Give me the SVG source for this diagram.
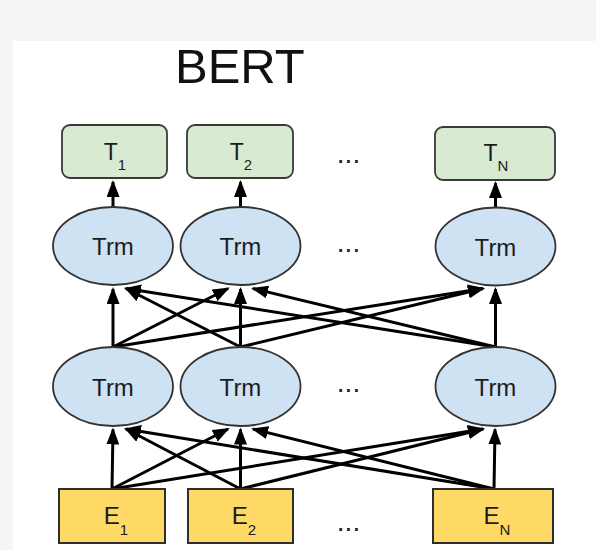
<svg xmlns="http://www.w3.org/2000/svg" width="596" height="550" viewBox="0 0 596 550">
<style>
.lbl{font-family:"Liberation Sans",Arial,sans-serif;fill:#1c1c1c;text-anchor:middle}
.tb{fill:#d9ead3;stroke:#3a3a3a;stroke-width:1.8}
.eb{fill:#ffd966;stroke:#2e2e2e;stroke-width:2}
.el{fill:#cfe2f3;stroke:#333;stroke-width:1.8}
.cn line{stroke:#000;stroke-width:3;marker-end:url(#ah)}
.dots{font-family:"Liberation Sans",Arial,sans-serif;font-size:28px;fill:#222;text-anchor:middle}
</style>
<defs>
<marker id="ah" markerUnits="userSpaceOnUse" markerWidth="17" markerHeight="13" viewBox="0 0 17 13" refX="15" refY="6.5" orient="auto">
<path d="M0,0 L17,6.5 L0,13 z" fill="#000"/>
</marker>
</defs>
<rect x="0" y="0" width="596" height="550" fill="#f4f5f7"/>
<rect x="13" y="41" width="583" height="509" fill="#ffffff"/>
<text x="175" y="83" font-family="Liberation Sans,Arial,sans-serif" font-size="49" fill="#111">BERT</text>

<g class="cn" id="connectors">
<line x1="113" y1="207" x2="113" y2="182"/>
<line x1="240.5" y1="207" x2="240.5" y2="182"/>
<line x1="495.5" y1="207" x2="495.5" y2="183"/>

<line x1="113" y1="347" x2="113" y2="289"/>
<line x1="113" y1="347" x2="228" y2="288.5"/>
<line x1="113" y1="347" x2="483" y2="288.5"/>
<line x1="240.5" y1="347" x2="240.5" y2="289"/>
<line x1="240.5" y1="347" x2="126" y2="288.5"/>
<line x1="240.5" y1="347" x2="483" y2="288.5"/>
<line x1="495.5" y1="347" x2="495.5" y2="289"/>
<line x1="495.5" y1="347" x2="126" y2="288.5"/>
<line x1="495.5" y1="347" x2="253" y2="288.5"/>

<line x1="112" y1="489" x2="113" y2="429.5"/>
<line x1="112" y1="489" x2="228" y2="429"/>
<line x1="112" y1="489" x2="483" y2="429"/>
<line x1="240.5" y1="489" x2="240.5" y2="429.5"/>
<line x1="240.5" y1="489" x2="126" y2="429"/>
<line x1="240.5" y1="489" x2="483" y2="429"/>
<line x1="494" y1="489" x2="495" y2="429.5"/>
<line x1="494" y1="489" x2="126" y2="429"/>
<line x1="494" y1="489" x2="253" y2="429"/>
</g>

<g id="T1"><rect class="tb" x="62" y="125" width="105" height="53" rx="8"/><text class="lbl" x="115" y="160" font-size="23">T<tspan font-size="15" dy="10">1</tspan></text></g>
<g id="T2"><rect class="tb" x="187" y="125" width="106" height="53" rx="8"/><text class="lbl" x="241" y="160" font-size="23">T<tspan font-size="15" dy="10">2</tspan></text></g>
<g id="TN"><rect class="tb" x="435" y="127" width="120" height="53" rx="8"/><text class="lbl" x="496" y="161" font-size="23">T<tspan font-size="15" dy="10">N</tspan></text></g>

<g id="TrmTop1"><ellipse class="el" cx="113" cy="246" rx="60" ry="39"/><text class="lbl" x="113" y="255" font-size="24">Trm</text></g>
<g id="TrmTop2"><ellipse class="el" cx="240.5" cy="246" rx="60" ry="39"/><text class="lbl" x="240.5" y="255" font-size="24">Trm</text></g>
<g id="TrmTopN"><ellipse class="el" cx="495.5" cy="246.5" rx="60" ry="39"/><text class="lbl" x="495.5" y="255.5" font-size="24">Trm</text></g>

<g id="TrmBot1"><ellipse class="el" cx="113" cy="386.5" rx="60" ry="39.5"/><text class="lbl" x="113" y="395.5" font-size="24">Trm</text></g>
<g id="TrmBot2"><ellipse class="el" cx="240.5" cy="386.5" rx="60" ry="39.5"/><text class="lbl" x="240.5" y="395.5" font-size="24">Trm</text></g>
<g id="TrmBotN"><ellipse class="el" cx="495.5" cy="386.5" rx="60" ry="39.5"/><text class="lbl" x="495.5" y="395.5" font-size="24">Trm</text></g>

<g id="E1"><rect class="eb" x="59" y="489" width="106" height="54"/><text class="lbl" x="116" y="524" font-size="24">E<tspan font-size="15" dy="11">1</tspan></text></g>
<g id="E2"><rect class="eb" x="188" y="489" width="105" height="54"/><text class="lbl" x="244" y="524" font-size="24">E<tspan font-size="15" dy="11">2</tspan></text></g>
<g id="EN"><rect class="eb" x="433" y="489" width="120" height="54"/><text class="lbl" x="497" y="524" font-size="24">E<tspan font-size="15" dy="11">N</tspan></text></g>

<text class="dots" x="348.5" y="163">...</text>
<text class="dots" x="348.5" y="252">...</text>
<text class="dots" x="348.5" y="392">...</text>
<text class="dots" x="348.5" y="531">...</text>
</svg>
